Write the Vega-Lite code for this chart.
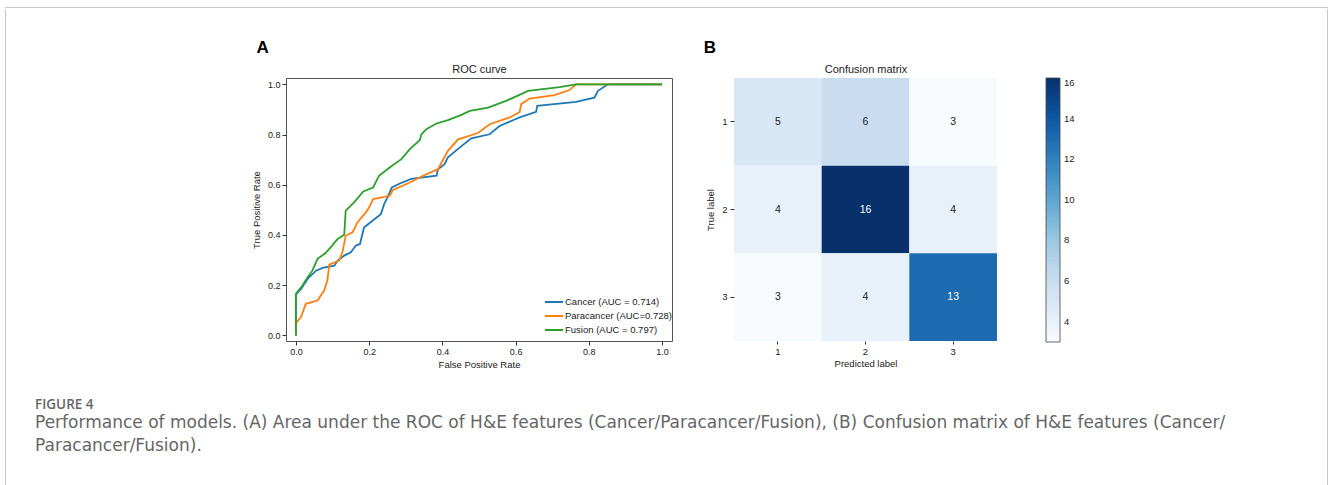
{
  "$schema": "https://vega.github.io/schema/vega-lite/v6.json",
  "background": "white",
  "padding": {"left": 4, "top": 6, "right": 0, "bottom": 0},
  "config": {
    "font": "Liberation Sans",
    "view": {"stroke": null},
    "axis": {"grid": false, "labelFontSize": 9, "titleFontSize": 9.5, "titleFontWeight": "normal", "labelColor": "#222", "titleColor": "#222", "tickColor": "#333", "labelFont": "Liberation Sans", "titleFont": "Liberation Sans"},
    "legend": {"labelFont": "Liberation Sans", "labelColor": "#222"},
    "title": {"font": "Liberation Sans"}
  },
  "datasets": {
    "blank": [],
    "roc": [
      {"model": "Cancer (AUC = 0.714)", "fpr": 0, "tpr": 0},
      {"model": "Cancer (AUC = 0.714)", "fpr": 0, "tpr": 0.163},
      {"model": "Cancer (AUC = 0.714)", "fpr": 0.014, "tpr": 0.185},
      {"model": "Cancer (AUC = 0.714)", "fpr": 0.032, "tpr": 0.225},
      {"model": "Cancer (AUC = 0.714)", "fpr": 0.055, "tpr": 0.258},
      {"model": "Cancer (AUC = 0.714)", "fpr": 0.073, "tpr": 0.269},
      {"model": "Cancer (AUC = 0.714)", "fpr": 0.105, "tpr": 0.278},
      {"model": "Cancer (AUC = 0.714)", "fpr": 0.114, "tpr": 0.298},
      {"model": "Cancer (AUC = 0.714)", "fpr": 0.132, "tpr": 0.318},
      {"model": "Cancer (AUC = 0.714)", "fpr": 0.15, "tpr": 0.331},
      {"model": "Cancer (AUC = 0.714)", "fpr": 0.164, "tpr": 0.358},
      {"model": "Cancer (AUC = 0.714)", "fpr": 0.175, "tpr": 0.364},
      {"model": "Cancer (AUC = 0.714)", "fpr": 0.186, "tpr": 0.43},
      {"model": "Cancer (AUC = 0.714)", "fpr": 0.209, "tpr": 0.457},
      {"model": "Cancer (AUC = 0.714)", "fpr": 0.232, "tpr": 0.483},
      {"model": "Cancer (AUC = 0.714)", "fpr": 0.241, "tpr": 0.523},
      {"model": "Cancer (AUC = 0.714)", "fpr": 0.25, "tpr": 0.55},
      {"model": "Cancer (AUC = 0.714)", "fpr": 0.262, "tpr": 0.589},
      {"model": "Cancer (AUC = 0.714)", "fpr": 0.284, "tpr": 0.605},
      {"model": "Cancer (AUC = 0.714)", "fpr": 0.315, "tpr": 0.623},
      {"model": "Cancer (AUC = 0.714)", "fpr": 0.384, "tpr": 0.636},
      {"model": "Cancer (AUC = 0.714)", "fpr": 0.388, "tpr": 0.662},
      {"model": "Cancer (AUC = 0.714)", "fpr": 0.406, "tpr": 0.682},
      {"model": "Cancer (AUC = 0.714)", "fpr": 0.415, "tpr": 0.709},
      {"model": "Cancer (AUC = 0.714)", "fpr": 0.447, "tpr": 0.748},
      {"model": "Cancer (AUC = 0.714)", "fpr": 0.479, "tpr": 0.785},
      {"model": "Cancer (AUC = 0.714)", "fpr": 0.529, "tpr": 0.801},
      {"model": "Cancer (AUC = 0.714)", "fpr": 0.556, "tpr": 0.834},
      {"model": "Cancer (AUC = 0.714)", "fpr": 0.611, "tpr": 0.868},
      {"model": "Cancer (AUC = 0.714)", "fpr": 0.656, "tpr": 0.89},
      {"model": "Cancer (AUC = 0.714)", "fpr": 0.659, "tpr": 0.914},
      {"model": "Cancer (AUC = 0.714)", "fpr": 0.765, "tpr": 0.93},
      {"model": "Cancer (AUC = 0.714)", "fpr": 0.815, "tpr": 0.947},
      {"model": "Cancer (AUC = 0.714)", "fpr": 0.825, "tpr": 0.974},
      {"model": "Cancer (AUC = 0.714)", "fpr": 0.852, "tpr": 1.0},
      {"model": "Cancer (AUC = 0.714)", "fpr": 1.0, "tpr": 1.0},
      {"model": "Paracancer (AUC=0.728)", "fpr": 0, "tpr": 0},
      {"model": "Paracancer (AUC=0.728)", "fpr": 0, "tpr": 0.049},
      {"model": "Paracancer (AUC=0.728)", "fpr": 0.014, "tpr": 0.073},
      {"model": "Paracancer (AUC=0.728)", "fpr": 0.027, "tpr": 0.126},
      {"model": "Paracancer (AUC=0.728)", "fpr": 0.059, "tpr": 0.139},
      {"model": "Paracancer (AUC=0.728)", "fpr": 0.077, "tpr": 0.179},
      {"model": "Paracancer (AUC=0.728)", "fpr": 0.086, "tpr": 0.219},
      {"model": "Paracancer (AUC=0.728)", "fpr": 0.091, "tpr": 0.282},
      {"model": "Paracancer (AUC=0.728)", "fpr": 0.118, "tpr": 0.298},
      {"model": "Paracancer (AUC=0.728)", "fpr": 0.127, "tpr": 0.331},
      {"model": "Paracancer (AUC=0.728)", "fpr": 0.136, "tpr": 0.397},
      {"model": "Paracancer (AUC=0.728)", "fpr": 0.155, "tpr": 0.411},
      {"model": "Paracancer (AUC=0.728)", "fpr": 0.168, "tpr": 0.45},
      {"model": "Paracancer (AUC=0.728)", "fpr": 0.191, "tpr": 0.49},
      {"model": "Paracancer (AUC=0.728)", "fpr": 0.2, "tpr": 0.51},
      {"model": "Paracancer (AUC=0.728)", "fpr": 0.211, "tpr": 0.543},
      {"model": "Paracancer (AUC=0.728)", "fpr": 0.256, "tpr": 0.556},
      {"model": "Paracancer (AUC=0.728)", "fpr": 0.265, "tpr": 0.579},
      {"model": "Paracancer (AUC=0.728)", "fpr": 0.311, "tpr": 0.609},
      {"model": "Paracancer (AUC=0.728)", "fpr": 0.347, "tpr": 0.636},
      {"model": "Paracancer (AUC=0.728)", "fpr": 0.388, "tpr": 0.662},
      {"model": "Paracancer (AUC=0.728)", "fpr": 0.415, "tpr": 0.735},
      {"model": "Paracancer (AUC=0.728)", "fpr": 0.443, "tpr": 0.781},
      {"model": "Paracancer (AUC=0.728)", "fpr": 0.497, "tpr": 0.806},
      {"model": "Paracancer (AUC=0.728)", "fpr": 0.529, "tpr": 0.841},
      {"model": "Paracancer (AUC=0.728)", "fpr": 0.584, "tpr": 0.868},
      {"model": "Paracancer (AUC=0.728)", "fpr": 0.611, "tpr": 0.89},
      {"model": "Paracancer (AUC=0.728)", "fpr": 0.615, "tpr": 0.921},
      {"model": "Paracancer (AUC=0.728)", "fpr": 0.638, "tpr": 0.943},
      {"model": "Paracancer (AUC=0.728)", "fpr": 0.706, "tpr": 0.957},
      {"model": "Paracancer (AUC=0.728)", "fpr": 0.747, "tpr": 0.977},
      {"model": "Paracancer (AUC=0.728)", "fpr": 0.765, "tpr": 1.0},
      {"model": "Paracancer (AUC=0.728)", "fpr": 1.0, "tpr": 1.0},
      {"model": "Fusion (AUC = 0.797)", "fpr": 0, "tpr": 0},
      {"model": "Fusion (AUC = 0.797)", "fpr": 0, "tpr": 0.166},
      {"model": "Fusion (AUC = 0.797)", "fpr": 0.018, "tpr": 0.199},
      {"model": "Fusion (AUC = 0.797)", "fpr": 0.032, "tpr": 0.232},
      {"model": "Fusion (AUC = 0.797)", "fpr": 0.045, "tpr": 0.258},
      {"model": "Fusion (AUC = 0.797)", "fpr": 0.059, "tpr": 0.305},
      {"model": "Fusion (AUC = 0.797)", "fpr": 0.08, "tpr": 0.327},
      {"model": "Fusion (AUC = 0.797)", "fpr": 0.095, "tpr": 0.351},
      {"model": "Fusion (AUC = 0.797)", "fpr": 0.114, "tpr": 0.384},
      {"model": "Fusion (AUC = 0.797)", "fpr": 0.132, "tpr": 0.401},
      {"model": "Fusion (AUC = 0.797)", "fpr": 0.136, "tpr": 0.497},
      {"model": "Fusion (AUC = 0.797)", "fpr": 0.159, "tpr": 0.53},
      {"model": "Fusion (AUC = 0.797)", "fpr": 0.184, "tpr": 0.573},
      {"model": "Fusion (AUC = 0.797)", "fpr": 0.211, "tpr": 0.589},
      {"model": "Fusion (AUC = 0.797)", "fpr": 0.227, "tpr": 0.636},
      {"model": "Fusion (AUC = 0.797)", "fpr": 0.256, "tpr": 0.669},
      {"model": "Fusion (AUC = 0.797)", "fpr": 0.288, "tpr": 0.702},
      {"model": "Fusion (AUC = 0.797)", "fpr": 0.311, "tpr": 0.742},
      {"model": "Fusion (AUC = 0.797)", "fpr": 0.338, "tpr": 0.777},
      {"model": "Fusion (AUC = 0.797)", "fpr": 0.343, "tpr": 0.801},
      {"model": "Fusion (AUC = 0.797)", "fpr": 0.356, "tpr": 0.821},
      {"model": "Fusion (AUC = 0.797)", "fpr": 0.384, "tpr": 0.844},
      {"model": "Fusion (AUC = 0.797)", "fpr": 0.415, "tpr": 0.857},
      {"model": "Fusion (AUC = 0.797)", "fpr": 0.452, "tpr": 0.878},
      {"model": "Fusion (AUC = 0.797)", "fpr": 0.475, "tpr": 0.894},
      {"model": "Fusion (AUC = 0.797)", "fpr": 0.525, "tpr": 0.907},
      {"model": "Fusion (AUC = 0.797)", "fpr": 0.579, "tpr": 0.937},
      {"model": "Fusion (AUC = 0.797)", "fpr": 0.634, "tpr": 0.974},
      {"model": "Fusion (AUC = 0.797)", "fpr": 0.72, "tpr": 0.989},
      {"model": "Fusion (AUC = 0.797)", "fpr": 0.765, "tpr": 1.0},
      {"model": "Fusion (AUC = 0.797)", "fpr": 1.0, "tpr": 1.0}
    ],
    "cm": [
      {"true": "1", "pred": "1", "count": 5},
      {"true": "1", "pred": "2", "count": 6},
      {"true": "1", "pred": "3", "count": 3},
      {"true": "2", "pred": "1", "count": 4},
      {"true": "2", "pred": "2", "count": 16},
      {"true": "2", "pred": "3", "count": 4},
      {"true": "3", "pred": "1", "count": 3},
      {"true": "3", "pred": "2", "count": 4},
      {"true": "3", "pred": "3", "count": 13}
    ]
  },
  "spacing": 0,
  "vconcat": [
    {
      "width": 1323,
      "height": 0.001,
      "view": {"stroke": "#c8c8c8", "strokeWidth": 1},
      "data": {"name": "blank"},
      "mark": {"type": "point"}
    },
    {
      "spacing": 0,
      "hconcat": [
        {
          "width": 0.001,
          "height": 480,
          "view": {"stroke": "#c8c8c8", "strokeWidth": 1},
          "data": {"name": "blank"},
          "mark": {"type": "point"}
        },
        {
          "spacing": 28,
          "vconcat": [
            {
              "width": 1,
              "height": 0.001,
              "data": {"name": "blank"},
              "mark": {"type": "point"}
            },
            {
              "spacing": 30,
              "hconcat": [
                {
                  "width": 214,
                  "height": 10,
                  "data": {"name": "blank"},
                  "mark": {"type": "point"}
                },
                {
                  "width": 386,
                  "height": 263,
                  "view": {"stroke": "#555", "strokeWidth": 1},
                  "title": {"text": "A", "anchor": "start", "fontSize": 17, "fontWeight": "bold", "color": "#000", "offset": 6, "dx": 5},
                  "data": {"name": "roc"},
                  "layer": [
                    {
                      "mark": {"type": "line", "strokeWidth": 1.8},
                      "encoding": {
                        "x": {"field": "fpr", "type": "quantitative", "scale": {"domain": [-0.027, 1.027], "nice": false, "zero": false},
                          "axis": {"values": [0, 0.2, 0.4, 0.6, 0.8, 1.0], "format": ".1f", "title": "False Positive Rate", "domain": false, "tickSize": 4, "labelPadding": 2, "titlePadding": 3}},
                        "y": {"field": "tpr", "type": "quantitative", "scale": {"domain": [-0.022, 1.025], "nice": false, "zero": false},
                          "axis": {"values": [0, 0.2, 0.4, 0.6, 0.8, 1.0], "format": ".1f", "title": "True Positive Rate", "domain": false, "tickSize": 4, "labelPadding": 2, "titlePadding": 6}},
                        "color": {"field": "model", "type": "nominal",
                          "scale": {"domain": ["Cancer (AUC = 0.714)", "Paracancer (AUC=0.728)", "Fusion (AUC = 0.797)"], "range": ["#1f77b4", "#ff7f0e", "#2ca02c"]},
                          "legend": {"orient": "none", "legendX": 260, "legendY": 216, "title": null, "symbolType": "M-1.3,0H1.3", "symbolStrokeWidth": 2, "symbolSize": 196, "labelFontSize": 9.5, "rowPadding": 1, "padding": 0, "labelOffset": 3}}
                      }
                    },
                    {
                      "transform": [{"filter": "datum.fpr == 1 && datum.tpr == 1"}],
                      "mark": {"type": "point", "opacity": 0},
                      "encoding": {
                        "x": {"field": "fpr", "type": "quantitative", "scale": {"domain": [-0.027, 1.027], "nice": false, "zero": false},
                          "axis": {"orient": "top", "title": "ROC curve", "labels": false, "ticks": false, "domain": false, "titleFontSize": 11, "titlePadding": 4}}
                      }
                    }
                  ],
                  "resolve": {"axis": {"x": "independent"}}
                },
                {
                  "width": 263,
                  "height": 263,
                  "title": {"text": "B", "anchor": "start", "fontSize": 17, "fontWeight": "bold", "color": "#000", "offset": 6, "dx": -2},
                  "data": {"name": "cm"},
                  "encoding": {
                    "x": {"field": "pred", "type": "ordinal", "scale": {"paddingInner": 0, "paddingOuter": 0},
                      "axis": {"title": "Predicted label", "labelAngle": 0, "domain": false, "tickSize": 3, "labelFontSize": 9.5, "labelPadding": 2, "titlePadding": 3}},
                    "y": {"field": "true", "type": "ordinal", "scale": {"paddingInner": 0, "paddingOuter": 0},
                      "axis": {"title": "True label", "domain": false, "tickSize": 4, "labelFontSize": 9.5, "labelPadding": 3, "titlePadding": 6}}
                  },
                  "layer": [
                    {
                      "mark": {"type": "rect"},
                      "encoding": {
                        "color": {"field": "count", "type": "quantitative",
                          "scale": {"domain": [3, 4.625, 6.25, 7.875, 9.5, 11.125, 12.75, 14.375, 16], "range": ["#f7fbff", "#deebf7", "#c6dbef", "#9ecae1", "#6baed6", "#4292c6", "#2171b5", "#08519c", "#08306b"]},
                          "legend": {"orient": "right", "title": null, "gradientLength": 264, "gradientThickness": 14, "values": [4, 6, 8, 10, 12, 14, 16], "offset": 49, "labelFontSize": 9.5, "gradientStrokeColor": "#444", "gradientStrokeWidth": 0.8, "labelOffset": 4}}
                      }
                    },
                    {
                      "mark": {"type": "text", "fontSize": 10.5},
                      "encoding": {
                        "x": {"field": "pred", "type": "ordinal", "scale": {"paddingInner": 0, "paddingOuter": 0},
                          "axis": {"orient": "top", "title": "Confusion matrix", "labels": false, "ticks": false, "domain": false, "titleFontSize": 11, "titlePadding": 4}},
                        "text": {"field": "count", "type": "quantitative"},
                        "color": {"condition": {"test": "datum.count > 8", "value": "white"}, "value": "#222"}
                      }
                    }
                  ],
                  "resolve": {"axis": {"x": "independent"}}
                }
              ]
            },
            {
              "width": 1320,
              "height": 1,
              "data": {"name": "blank"},
              "mark": {"type": "point"},
              "title": {
                "text": "FIGURE 4",
                "subtitle": ["Performance of models. (A) Area under the ROC of H&E features (Cancer/Paracancer/Fusion), (B) Confusion matrix of H&E features (Cancer/", "Paracancer/Fusion)."],
                "orient": "top",
                "anchor": "start",
                "frame": "group",
                "dx": 29,
                "offset": 0,
                "font": "Open Sans",
                "fontSize": 13.5,
                "fontWeight": 600,
                "color": "#666",
                "subtitleFont": "DejaVu Sans",
                "subtitleFontSize": 17,
                "subtitleColor": "#666",
                "subtitleLineHeight": 23,
                "subtitlePadding": 4
              }
            }
          ]
        },
        {
          "width": 0.001,
          "height": 480,
          "view": {"stroke": "#c8c8c8", "strokeWidth": 1},
          "data": {"name": "blank"},
          "mark": {"type": "point"}
        }
      ]
    }
  ]
}
